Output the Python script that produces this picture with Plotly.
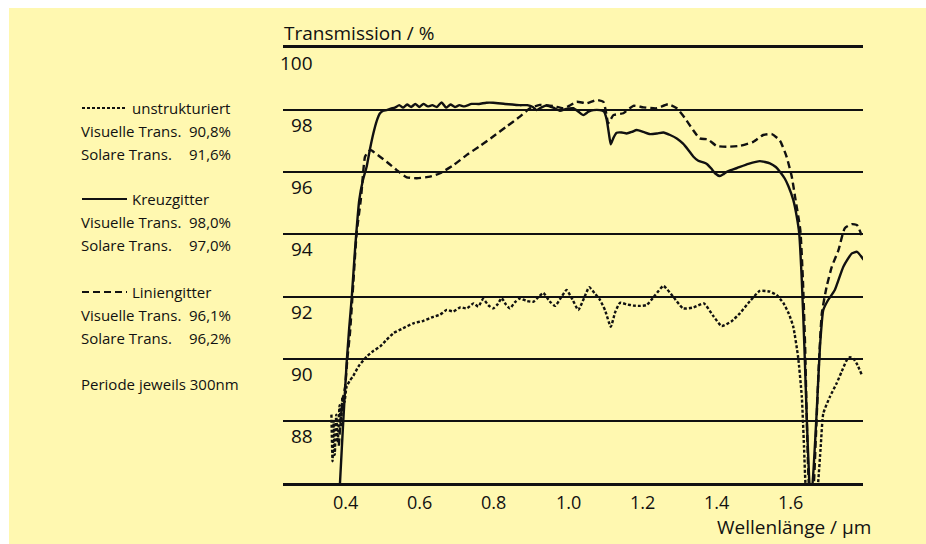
import plotly.graph_objects as go

# ---------------- data ----------------
unstr_x = [0.362, 0.365, 0.368, 0.371, 0.375, 0.379, 0.384, 0.388, 0.392, 0.397, 0.403,
           0.412, 0.421, 0.435, 0.457, 0.475, 0.493, 0.51, 0.529, 0.555, 0.583, 0.61, 0.637,
           0.655, 0.673, 0.69, 0.709, 0.727, 0.745, 0.758, 0.771, 0.785, 0.798, 0.81, 0.821,
           0.832, 0.843, 0.857, 0.870, 0.888, 0.906, 0.92, 0.933, 0.95, 0.965, 0.98, 0.996,
           1.012, 1.0275, 1.043, 1.057, 1.072, 1.086, 1.10, 1.115, 1.127, 1.140, 1.158, 1.176,
           1.194, 1.212, 1.235, 1.257, 1.283, 1.310, 1.338, 1.366, 1.39, 1.414, 1.44, 1.463,
           1.49, 1.517, 1.544, 1.562, 1.580, 1.595, 1.607, 1.620, 1.630, 1.636, 1.641, 1.650,
           1.660, 1.668, 1.674, 1.681, 1.688, 1.706, 1.724, 1.738, 1.751, 1.760, 1.769, 1.780, 1.791]
unstr_y = [88.2, 86.7, 88.0, 86.9, 88.2, 87.3, 88.5, 87.8, 88.8, 88.6, 89.1,
           89.3, 89.45, 89.75, 90.07, 90.25, 90.39, 90.6, 90.82, 90.98, 91.14, 91.22, 91.35,
           91.42, 91.57, 91.52, 91.65, 91.62, 91.78, 91.68, 91.92, 91.72, 91.62, 91.75, 91.95,
           91.75, 91.62, 91.82, 91.94, 91.86, 91.83, 91.98, 92.12, 91.85, 91.70, 91.95, 92.21,
           91.9, 91.57, 91.95, 92.30, 92.1, 91.89, 91.55, 91.03, 91.5, 91.80, 91.75, 91.71,
           91.70, 91.73, 92.05, 92.34, 92.0, 91.62, 91.65, 91.78, 91.4, 91.05, 91.2, 91.46,
           91.85, 92.18, 92.16, 92.05, 91.8, 91.45, 91.03, 90.06, 88.78, 87.17, 85.8, 85.3,
           85.3, 85.3, 86.0, 87.17, 88.24, 88.78, 89.21, 89.6, 89.95, 90.05, 90.0, 89.8, 89.5]

kreuz_x = [0.383, 0.386, 0.394, 0.403, 0.410, 0.417, 0.4256, 0.437, 0.447, 0.457, 0.466, 0.475,
           0.484, 0.493, 0.502, 0.511, 0.522, 0.533, 0.545, 0.555, 0.566, 0.577, 0.588, 0.599,
           0.61, 0.622, 0.634, 0.646, 0.659, 0.671, 0.683, 0.695, 0.707, 0.72, 0.74, 0.76,
           0.78, 0.798, 0.83, 0.85, 0.870, 0.89, 0.905, 0.915, 0.93, 0.942, 0.96, 0.978,
           0.995, 1.014, 1.028, 1.041, 1.055, 1.068, 1.086, 1.097, 1.104, 1.110, 1.115, 1.122,
           1.131, 1.145, 1.158, 1.172, 1.185, 1.203, 1.221, 1.24, 1.257, 1.275, 1.293, 1.31,
           1.324, 1.338, 1.351, 1.364, 1.374, 1.386, 1.396, 1.409, 1.42, 1.432, 1.454, 1.486,
           1.517, 1.544, 1.56, 1.571, 1.584, 1.594, 1.607, 1.616, 1.623, 1.630, 1.637, 1.643,
           1.650, 1.655, 1.662, 1.670, 1.679, 1.688, 1.701, 1.719, 1.742, 1.765, 1.779, 1.797]
kreuz_y = [85.5, 86.2, 88.0, 89.85, 91.0, 92.0, 93.5, 95.1, 95.75, 96.18, 96.75, 97.25,
           97.65, 97.90, 97.98, 98.0, 98.05, 98.08, 98.16, 98.08, 98.18, 98.1, 98.2, 98.1,
           98.2, 98.12, 98.16, 98.1, 98.25, 98.08, 98.18, 98.1, 98.16, 98.12, 98.2, 98.2,
           98.24, 98.24, 98.2, 98.18, 98.16, 98.16, 98.1, 98.0, 98.1, 98.15, 98.08, 97.98,
           98.04, 98.06, 97.95, 97.84, 97.95, 98.0, 98.0, 97.95, 97.7, 97.25, 96.9, 97.1,
           97.27, 97.28, 97.25, 97.3, 97.36, 97.3, 97.23, 97.25, 97.28, 97.2, 97.09, 96.92,
           96.72, 96.5, 96.37, 96.32, 96.27, 96.12, 95.97, 95.88, 95.95, 96.04, 96.13, 96.27,
           96.36, 96.29, 96.17, 96.02, 95.8, 95.55, 95.11, 94.6, 94.04, 92.53, 90.39, 88.24,
           86.1, 85.4, 86.5, 88.24, 90.39, 91.57, 91.89, 92.21, 92.96, 93.39, 93.44, 93.18]

linien_x = [0.382, 0.388, 0.393, 0.399, 0.405, 0.412, 0.421, 0.430, 0.441, 0.4437, 0.4526, 0.4615,
            0.468, 0.475, 0.493, 0.511, 0.538, 0.565, 0.592, 0.628, 0.655, 0.691, 0.727, 0.763,
            0.798, 0.834, 0.870, 0.897, 0.924, 0.960, 0.987, 1.005, 1.023, 1.050, 1.077, 1.095,
            1.102, 1.108, 1.115, 1.122, 1.149, 1.176, 1.203, 1.239, 1.270, 1.293, 1.315, 1.337,
            1.355, 1.377, 1.400, 1.427, 1.463, 1.499, 1.526, 1.549, 1.571, 1.589, 1.603, 1.612,
            1.626, 1.633, 1.639, 1.643, 1.648, 1.653, 1.660, 1.668, 1.676, 1.684, 1.697, 1.711,
            1.729, 1.746, 1.765, 1.779, 1.791]
linien_y = [87.2, 88.2, 88.7, 89.1, 90.0, 90.82, 92.43, 94.04, 95.1, 95.43, 96.5, 96.66,
            96.72, 96.66, 96.5, 96.34, 96.07, 95.84, 95.81, 95.86, 95.97, 96.23, 96.56, 96.85,
            97.15, 97.47, 97.79, 98.06, 98.17, 98.13, 98.06, 98.15, 98.27, 98.22, 98.33, 98.27,
            97.95, 97.58, 97.7, 97.84, 97.90, 98.14, 98.09, 98.06, 98.19, 98.06, 97.74, 97.36,
            97.09, 97.06, 96.85, 96.82, 96.85, 96.98, 97.2, 97.23, 97.02, 96.5, 95.86, 95.2,
            94.14, 92.53, 90.39, 88.25, 86.2, 85.4, 85.6, 87.5, 89.8, 91.46, 92.32, 92.96,
            93.5, 94.2, 94.33, 94.3, 93.98]

y_ticks = [100, 98, 96, 94, 92, 90, 88]
y_tick_labels = ["100", "98", "96", "94", "92", "90", "88"]
x_ticks = [0.4, 0.6, 0.8, 1.0, 1.2, 1.4, 1.6, 1.8]
x_tick_labels = ["0.4", "0.6", "0.8", "1.0", "1.2", "1.4", "1.6", "1.8"]

series_names = ["unstrukturiert", "Kreuzgitter", "Liniengitter"]
visuelle = ["90,8%", "98,0%", "96,1%"]
solare = ["91,6%", "97,0%", "96,2%"]
note_text = "Periode jeweils 300nm"

# ---------------- layout geometry (pixels) ----------------
W, H = 926, 544
L, R, T, B = 283, 863, 48, 483
PW, PH = R - L, B - T

def px(xp):
    return (xp - L) / PW

def py(yp):
    return (B - yp) / PH

FONT = "Open Sans"
BG = "#FFF8B0"
INK = "#111111"
LEG_SIZE = 15

dashes = ["3px,2px", "solid", "7px,4px"]
series = [(unstr_x, unstr_y), (kreuz_x, kreuz_y), (linien_x, linien_y)]

fig = go.Figure()
for (xs, ys), name, d in zip(series, series_names, dashes):
    fig.add_trace(go.Scatter(
        x=xs, y=ys, mode="lines", name=name,
        line=dict(color=INK, width=2.4, dash=d, shape="spline", smoothing=0.5),
        showlegend=False, hoverinfo="skip"))

annotations = []
# y tick labels (below each gridline)
for v, t in zip(y_ticks, y_tick_labels):
    annotations.append(dict(x=px(315), xref="paper", y=v, yref="y", text=t,
                            xanchor="right", yanchor="middle", yshift=-15,
                            showarrow=False, font=dict(family=FONT, size=19, color=INK)))
# x tick labels
for v, t in zip(x_ticks, x_tick_labels):
    annotations.append(dict(x=v, xref="x", y=py(502), yref="paper", text=t,
                            xanchor="center", yanchor="middle", showarrow=False,
                            font=dict(family=FONT, size=18, color=INK)))
# axis titles
annotations.append(dict(x=px(282), xref="paper", y=py(33), yref="paper",
                        text="Transmission / %", xanchor="left", yanchor="middle",
                        showarrow=False, font=dict(family=FONT, size=19, color=INK)))
annotations.append(dict(x=px(873), xref="paper", y=py(527), yref="paper",
                        text="Wellenlänge / µm", xanchor="right", yanchor="middle",
                        showarrow=False, font=dict(family=FONT, size=19, color=INK)))

# legend block
leg_y = [108, 199, 292]
shapes = []
for i, (name, vis, sol, d) in enumerate(zip(series_names, visuelle, solare, dashes)):
    y0 = leg_y[i]
    shapes.append(dict(type="line", xref="paper", yref="paper",
                       x0=px(82), x1=px(127), y0=py(y0), y1=py(y0),
                       line=dict(color=INK, width=2.2, dash=d)))
    annotations.append(dict(x=px(130), xref="paper", y=py(y0), yref="paper", text=name,
                            xanchor="left", yanchor="middle", showarrow=False,
                            font=dict(family=FONT, size=LEG_SIZE, color=INK)))
    annotations.append(dict(x=px(79), xref="paper", y=py(y0 + 23), yref="paper",
                            text="Visuelle Trans.", xanchor="left", yanchor="middle",
                            showarrow=False, font=dict(family=FONT, size=LEG_SIZE, color=INK)))
    annotations.append(dict(x=px(187), xref="paper", y=py(y0 + 23), yref="paper",
                            text=vis, xanchor="left", yanchor="middle",
                            showarrow=False, font=dict(family=FONT, size=LEG_SIZE, color=INK)))
    annotations.append(dict(x=px(79), xref="paper", y=py(y0 + 46), yref="paper",
                            text="Solare Trans.", xanchor="left", yanchor="middle",
                            showarrow=False, font=dict(family=FONT, size=LEG_SIZE, color=INK)))
    annotations.append(dict(x=px(187), xref="paper", y=py(y0 + 46), yref="paper",
                            text=sol, xanchor="left", yanchor="middle",
                            showarrow=False, font=dict(family=FONT, size=LEG_SIZE, color=INK)))
annotations.append(dict(x=px(79), xref="paper", y=py(384), yref="paper", text=note_text,
                        xanchor="left", yanchor="middle", showarrow=False,
                        font=dict(family=FONT, size=LEG_SIZE, color=INK)))

# white strips at top and left of the page
shapes.append(dict(type="rect", xref="paper", yref="paper", layer="below",
                   x0=px(-2), x1=px(W + 2), y0=py(8), y1=py(-2),
                   fillcolor="white", line=dict(width=0)))
shapes.append(dict(type="rect", xref="paper", yref="paper", layer="below",
                   x0=px(-2), x1=px(9), y0=py(H + 2), y1=py(-2),
                   fillcolor="white", line=dict(width=0)))

fig.update_layout(
    width=W, height=H,
    margin=dict(l=L, r=W - R, t=T, b=H - B, pad=0),
    paper_bgcolor=BG, plot_bgcolor=BG,
    font=dict(family=FONT, color=INK),
    xaxis=dict(range=[0.2315, 1.795], showgrid=False, zeroline=False,
               showticklabels=False, ticks="", showline=True, linecolor=INK,
               linewidth=3, mirror=True, fixedrange=True),
    yaxis=dict(range=[86, 100], tickvals=[98, 96, 94, 92, 90, 88], showgrid=True,
               gridcolor=INK, gridwidth=1.5, zeroline=False, showticklabels=False,
               ticks="", showline=False, fixedrange=True),
    annotations=annotations,
    shapes=shapes,
    showlegend=False,
)

fig.write_html("out.html")
